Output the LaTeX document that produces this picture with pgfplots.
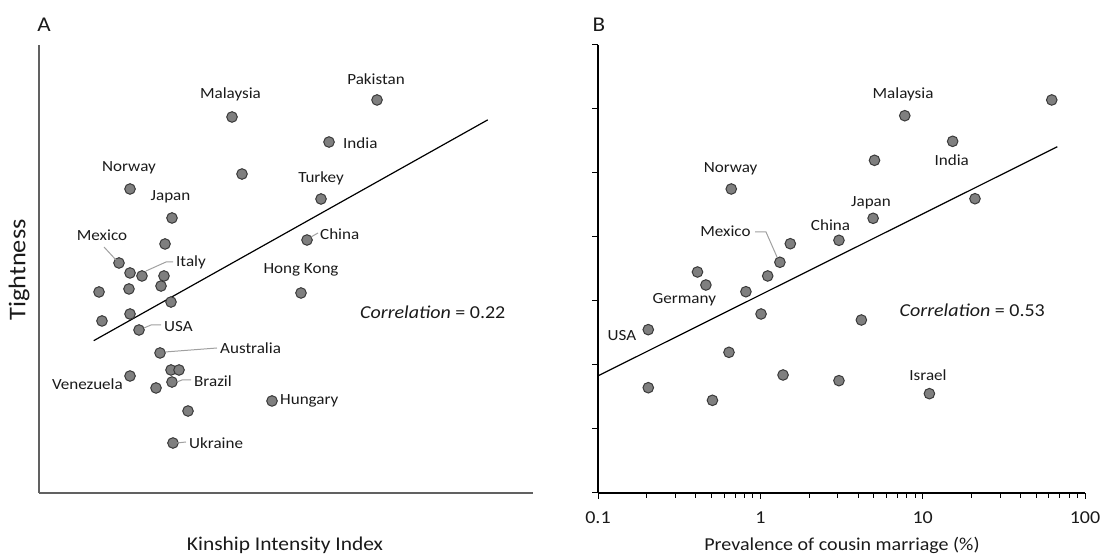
\documentclass[border=0pt]{standalone}
\usepackage{pgfplots}
\pgfplotsset{compat=1.18}
\usepackage{fontspec}
\setmainfont{Carlito}[FakeStretch=1.1]
\newcommand\labfont{\fontsize{15.5bp}{18bp}\selectfont}
\newcommand\midfont{\fontsize{18.2bp}{21bp}\selectfont}
\newcommand\ttlfont{\fontsize{19.5bp}{23bp}\selectfont}
\newcommand\bigfont{\fontsize{21bp}{25bp}\selectfont}
\newcommand\yfont{\fontsize{24bp}{28bp}\selectfont}
\definecolor{ptfill}{HTML}{7F7F7F}
\definecolor{ptdraw}{HTML}{3A3A3A}
\definecolor{lead}{HTML}{A0A0A0}
\definecolor{txt}{HTML}{1A1A1A}
\pgfplotstableread{
x y
6.845 6.141
3.912 5.875
5.874 5.484
4.114 4.984
1.849 4.750
5.712 4.594
2.698 4.297
5.429 3.953
2.557 3.891
1.626 3.594
1.849 3.438
2.091 3.391
2.536 3.391
2.476 3.234
1.222 3.141
1.828 3.188
5.307 3.125
2.678 2.984
1.282 2.688
1.849 2.797
2.031 2.547
2.456 2.188
2.678 1.922
2.840 1.922
1.849 1.828
2.698 1.734
2.375 1.641
4.721 1.438
3.022 1.281
2.718 0.781
}\kinship
\pgfplotstableread{
x y
62.4 6.141
7.76 5.895
15.3 5.495
5.05 5.198
0.662 4.750
21.0 4.598
4.95 4.292
3.05 3.948
1.53 3.895
1.32 3.605
0.410 3.453
1.11 3.391
0.462 3.250
0.815 3.145
1.01 2.797
4.19 2.703
0.204 2.552
0.641 2.198
1.38 1.844
3.05 1.755
0.204 1.645
11.0 1.552
0.507 1.448
}\cousin
\begin{document}
\begin{tikzpicture}[x=1bp,y=1bp]
\useasboundingbox (0,0) rectangle (1106,557);
% Panel A
\begin{axis}[
  at={(38.6bp,64bp)}, anchor=south west,
  width=494.4bp, height=448bp, scale only axis,
  xmin=0, xmax=10, ymin=0, ymax=7,
  axis x line=bottom, axis y line=left,
  axis line style={-, draw=black!62, line width=2.2bp},
  xtick=\empty, ytick=\empty,
  clip=false,
]
\addplot[black, line width=1.2bp, no marks] coordinates {(1.115,2.38) (9.084,5.83)};
\addplot[only marks, mark=*, mark size=5.3bp, mark options={fill=ptfill, draw=ptdraw, line width=1bp}] table[x=x,y=y] {\kinship};
\end{axis}
% Panel B
\begin{axis}[
  at={(598bp,64bp)}, anchor=south west,
  width=487bp, height=448bp, scale only axis,
  xmode=log, xmin=0.1, xmax=100, ymin=0, ymax=7,
  axis x line=bottom, axis y line=left,
  axis line style={-, draw=black, line width=1.3bp},
  xtick={0.1,1,10,100}, xticklabels={0.1,1,10,100},
  minor xtick={0.2,0.3,0.4,0.5,0.6,0.7,0.8,0.9,2,3,4,5,6,7,8,9,20,30,40,50,60,70,80,90},
  ytick={0,1,2,3,4,5,6,7}, yticklabels={},
  tick align=outside, major tick length=6bp, minor tick length=5bp,
  every tick/.style={black, line width=1bp},
  xticklabel style={font=\midfont, text=txt, yshift=-9bp},
  clip=false,
]
\addplot[black, line width=1.2bp, no marks] coordinates {(0.1,1.83) (67.5,5.41)};
\addplot[only marks, mark=*, mark size=5.3bp, mark options={fill=ptfill, draw=ptdraw, line width=1bp}] table[x=x,y=y] {\cousin};
\end{axis}
% Annotations (pixel coordinates, y downward)
\begin{scope}[x=1bp, y=-1bp, shift={(0,557bp)}, every node/.style={text=txt, inner sep=0pt}]
\node[font=\bigfont] at (44,25) {A};
\node[font=\bigfont] at (599,25) {B};
% Panel A labels
\node[font=\labfont] at (376,79) {Pakistan};
\node[font=\labfont] at (230.5,94) {Malaysia};
\node[font=\labfont, anchor=west] at (343,143) {India};
\node[font=\labfont] at (129,168) {Norway};
\node[font=\labfont] at (321,178) {Turkey};
\node[font=\labfont] at (170.5,197) {Japan};
\node[font=\labfont] at (102,235) {Mexico};
\node[font=\labfont, anchor=west] at (320,234) {China};
\node[font=\labfont, anchor=west] at (176,262) {Italy};
\node[font=\labfont] at (301,270) {Hong Kong};
\node[font=\midfont, anchor=west] at (360,312) {\textit{Correlation} = 0.22};
\node[font=\labfont, anchor=west] at (164,327) {USA};
\node[font=\labfont, anchor=west] at (220,348) {Australia};
\node[font=\labfont, anchor=east] at (123,384) {Venezuela};
\node[font=\labfont, anchor=west] at (194,381) {Brazil};
\node[font=\labfont, anchor=west] at (280,401) {Hungary};
\node[font=\labfont, anchor=west] at (189,443) {Ukraine};
\node[font=\ttlfont] at (285,545) {Kinship Intensity Index};
\node[font=\yfont, rotate=90] at (19,270) {Tightness};
\draw[lead, line width=1bp] (104,247) -- (116,260);
\draw[lead, line width=1bp] (311,237) -- (318,233);
\draw[lead, line width=1bp] (146,271) -- (166,262) -- (173,262);
\draw[lead, line width=1bp] (144,328) -- (151,325) -- (161,325);
\draw[lead, line width=1bp] (165,352) -- (217,348);
\draw[lead, line width=1bp] (177,382) -- (182,380) -- (191,380);
\draw[lead, line width=1bp] (177,443) -- (186,442);
% Panel B labels
\node[font=\labfont] at (903,94.3) {Malaysia};
\node[font=\labfont] at (951.7,160) {India};
\node[font=\labfont] at (730.6,168.3) {Norway};
\node[font=\labfont] at (871,202.3) {Japan};
\node[font=\labfont] at (830.5,225.3) {China};
\node[font=\labfont] at (725.4,231.7) {Mexico};
\node[font=\labfont] at (684.3,300) {Germany};
\node[font=\labfont] at (622,336) {USA};
\node[font=\midfont, anchor=west] at (899.5,310) {\textit{Correlation} = 0.53};
\node[font=\labfont] at (928,375) {Israel};
\node[font=\midfont] at (842,545) {Prevalence of cousin marriage (\%)};
\draw[lead, line width=1bp] (755,232) -- (766,232) -- (777,257);
\end{scope}
\end{tikzpicture}
\end{document}
